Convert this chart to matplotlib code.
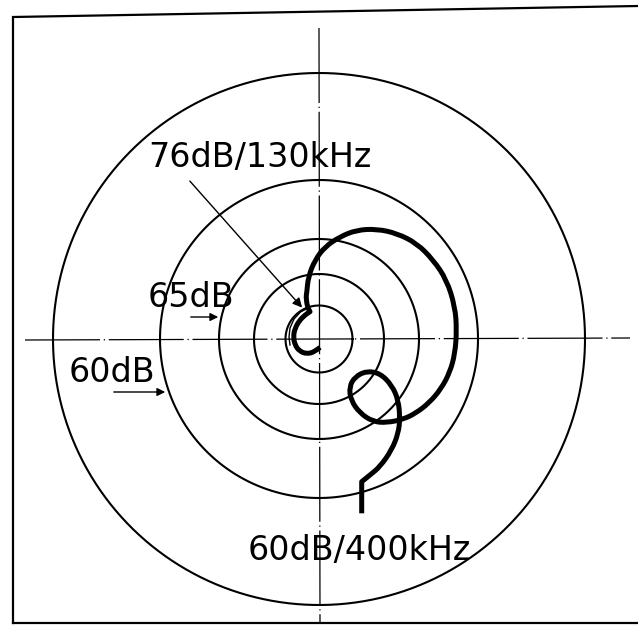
import matplotlib
matplotlib.use("Agg")
import matplotlib.pyplot as plt
from matplotlib.path import Path
from matplotlib.patches import PathPatch
import numpy as np

# level circles (chart units, centre of the diagram at 0,0)
levels_db = [55, 60, 65, 70, 75]
level_radius = [266, 159, 100, 65, 33.5]

# locus, 130 kHz (inner end) -> 400 kHz (outer end); repeated points are corners
locus_x = [1, -4, -12.3, -19.7, -24, -25.7, -24, -19.7, -14, -9, -9, -11.7, -13, -12.3,
           -10.7, -4, 6, 21, 37.7, 57.7, 77.7, 97.7, 114.3, 127.7, 136, 137.7, 136,
           131, 122, 110, 97, 84.3, 67.7, 54.3, 41, 31.7, 30.3, 36, 47.7, 61,
           72.7, 79.3, 81, 79.3, 72.7, 61, 51, 42.7, 42.7, 42.7]
locus_y = [-8.3, -12.7, -15, -12, -6, 2.3, 10.7, 18.3, 24, 27.3, 27.3, 32.3, 42.3, 45.7,
           62.3, 79, 92.3, 102.3, 109, 110, 105.7, 95.7, 79, 59, 32.3, 9, -14.3,
           -33, -50, -64, -74, -80.3, -83.7, -82.7, -74.3, -61, -47.7, -37.7, -32,
           -34.3, -46, -61, -79.3, -94.3, -111, -127.7, -136, -142.7, -142.7, -174.3]

# thin companion trace beside the inner arc
inner_x = [-11, -18.5, -25, -29, -30, -29]
inner_y = [31, 27, 20, 11, 2, -6]

start_label = "76dB/130kHz"
end_label = "60dB/400kHz"


def smooth_path(xs, ys):
    # quadratic b-spline: read points act as control points, midpoints lie on the curve
    pts = np.column_stack([xs, ys])
    verts = [pts[0]]
    codes = [Path.MOVETO]
    for i in range(1, len(pts) - 1):
        verts += [pts[i], (pts[i] + pts[i + 1]) / 2]
        codes += [Path.CURVE3, Path.CURVE3]
    verts.append(pts[-1])
    codes.append(Path.LINETO)
    return Path(verts, codes)


plt.rcParams['font.family'] = ['DejaVu Sans']

fig = plt.figure(figsize=(6.38, 6.25), dpi=100)
ax = fig.add_axes([0, 0, 1, 1])
ax.set_xlim(-319, 319)
ax.set_ylim(-286, 339)
ax.set_aspect('equal')
ax.axis('off')

# frame
ax.plot([-306, -306, 319], [-284, 322, 333], color='k', lw=1.6, solid_joinstyle='miter')
ax.plot([-306, 319], [-284, -284], color='k', lw=1.6)

# centre lines
dash = (0, (60, 3, 1, 3))
ax.plot([-294, 311], [-1, 1], color='k', lw=0.9, linestyle=dash)
ax.plot([0, 1], [311, -283], color='k', lw=0.9, linestyle=dash)

t = np.linspace(0, 2 * np.pi, 400)
for r in level_radius:
    ax.plot(r * np.cos(t), r * np.sin(t), color='k', lw=1.5)

ax.add_patch(PathPatch(smooth_path(locus_x, locus_y), fill=False, ec='k', lw=3.6,
                       capstyle='butt', joinstyle='round'))
ax.plot(inner_x, inner_y, color='k', lw=1.0)

txt = dict(fontsize=24, color='k', ha='left', va='baseline')
ax.text(-171, 172, start_label, **txt)
ax.annotate('', xy=(locus_x[9] - 6, locus_y[9] + 2), xytext=(-131, 160),
            arrowprops=dict(arrowstyle='-|>', color='k', lw=1.0, mutation_scale=14))

ax.text(-71, -221, end_label, **txt)

# 65 dB and 60 dB level markers
ax.text(-171, 32, "{}dB".format(levels_db[2]), **txt)
ax.annotate('', xy=(-98, 22), xytext=(-131, 22),
            arrowprops=dict(arrowstyle='-|>', color='k', lw=1.0, mutation_scale=12))
ax.text(-250, -43, "{}dB".format(levels_db[1]), **txt)
ax.annotate('', xy=(-151, -53), xytext=(-208, -53),
            arrowprops=dict(arrowstyle='-|>', color='k', lw=1.0, mutation_scale=12))

fig.savefig("out.png", dpi=100)
